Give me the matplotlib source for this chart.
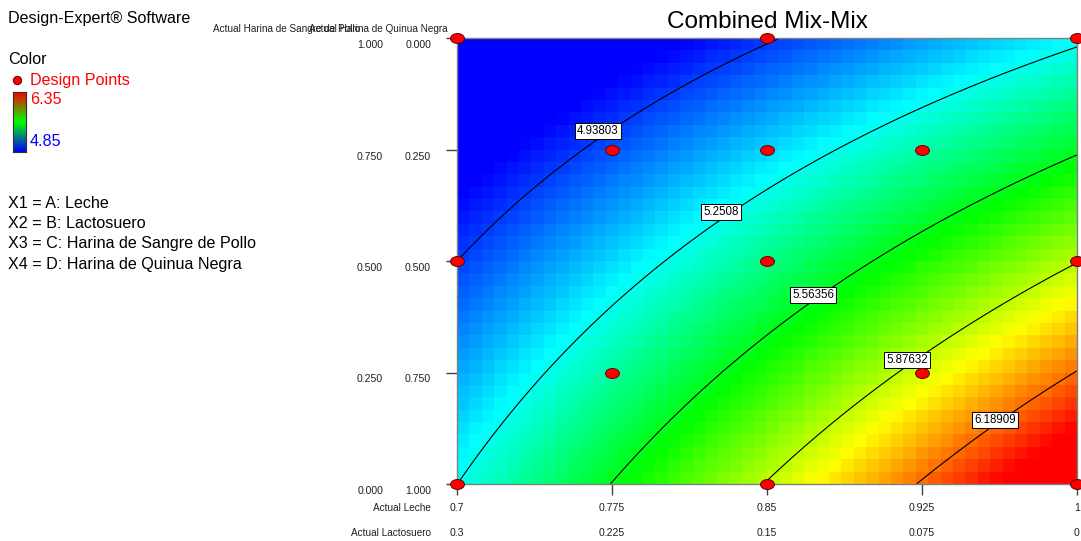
import numpy as np
import matplotlib
matplotlib.use("Agg")
import matplotlib.pyplot as plt
from matplotlib.colors import LinearSegmentedColormap
from matplotlib.path import Path
from matplotlib.transforms import Affine2D, blended_transform_factory, ScaledTranslation

plt.rcParams['font.family'] = ['Liberation Sans', 'DejaVu Sans']

# ---------------- data ----------------
leche_ticks = [0.7, 0.775, 0.85, 0.925, 1.0]
leche_labels = ["0.7", "0.775", "0.85", "0.925", "1"]
lacto_labels = ["0.3", "0.225", "0.15", "0.075", "0"]
sangre_ticks = [0.0, 0.25, 0.5, 0.75, 1.0]
sangre_labels = ["0.000", "0.250", "0.500", "0.750", "1.000"]
quinua_labels = ["1.000", "0.750", "0.500", "0.250", "0.000"]

# design points (Leche, Harina de Sangre de Pollo)
pts_leche = [0.7, 0.85, 1.0, 0.775, 0.85, 0.925, 0.7, 0.85, 1.0, 0.775, 0.925, 0.7, 0.85, 1.0]
pts_sangre = [1.0, 1.0, 1.0, 0.75, 0.75, 0.75, 0.5, 0.5, 0.5, 0.25, 0.25, 0.0, 0.0, 0.0]

# estimated response model coefficients (coded: u = Leche scaled 0..1, v = Sangre)
b0, bU, bV, bUV = 5.25, 1.267, -0.624, -0.668
levels = [4.93803, 5.2508, 5.56356, 5.87632, 6.18909]
level_texts = ["4.93803", "5.2508", "5.56356", "5.87632", "6.18909"]
label_pos = [(0.7682, 0.7915), (0.8277, 0.610), (0.8723, 0.4238), (0.9177, 0.278), (0.9603, 0.1435)]
vmin, vmax = 4.85, 6.35

def response(leche, sangre):
    u = (leche - 0.7) / 0.3
    return b0 + bU * u + bV * sangre + bUV * u * sangre

cmap = LinearSegmentedColormap.from_list(
    "de", ["#0000ff", "#00ffff", "#00ff00", "#ffff00", "#ff0000"])
legend_cmap = LinearSegmentedColormap.from_list("leg", ["#0000ff", "#00ff00", "#ff0000"])

# ---------------- figure ----------------
W, H = 1081, 541
fig = plt.figure(figsize=(W / 100, H / 100), dpi=100)
ax = fig.add_axes([457 / W, 57 / H, 620 / W, 446 / H])

nx, ny = 50, 36
xe = np.linspace(0.7, 1.0, nx + 1)
ye = np.linspace(0.0, 1.0, ny + 1)
xc = 0.5 * (xe[:-1] + xe[1:])
yc = 0.5 * (ye[:-1] + ye[1:])
XC, YC = np.meshgrid(xc, yc)
ax.pcolormesh(xe, ye, response(XC, YC), cmap=cmap, vmin=vmin, vmax=vmax, shading='flat')

xf = np.linspace(0.7, 1.0, 300)
yf = np.linspace(0.0, 1.0, 300)
XF, YF = np.meshgrid(xf, yf)
cs = ax.contour(XF, YF, response(XF, YF), levels=levels, colors='black', linewidths=0.8)
fmt = {lv: tx for lv, tx in zip(cs.levels, level_texts)}
lbls = ax.clabel(cs, inline=False, fmt=fmt, fontsize=8.3, manual=label_pos)
for t in lbls:
    t.set_rotation(0)
    txt = t.get_text()
    if txt in level_texts:
        t.set_position(label_pos[level_texts.index(txt)])
    t.set_bbox(dict(facecolor='white', edgecolor='black', linewidth=0.7, pad=1.5))
    t.set_zorder(5)

ell = Path.unit_circle().transformed(Affine2D().scale(1.4, 1.0))
ax.plot(pts_leche, pts_sangre, linestyle='none', marker=ell, markersize=10,
        markerfacecolor='#ff0000', markeredgecolor='#600000', markeredgewidth=0.7,
        clip_on=False, zorder=6)

ax.set_xlim(0.7, 1.0)
ax.set_ylim(0.0, 1.0)
for s in ax.spines.values():
    s.set_color('#808080')
    s.set_linewidth(1.0)
ax.set_xticks(leche_ticks)
ax.set_yticks(sangre_ticks)
ax.set_xticklabels([])
ax.set_yticklabels([])
ax.tick_params(direction='out', length=8, width=1, color='#404040')

tf = fig.dpi_scale_trans
tfont = 7.6
# y tick label columns
ytr = blended_transform_factory(fig.transFigure, ax.transData)
for yv, s1, s2 in zip(sangre_ticks, sangre_labels, quinua_labels):
    off = ScaledTranslation(0, -7 / 100, tf)
    fig.text(383 / W, yv, s1, transform=ytr + off, ha='right', va='center',
             fontsize=tfont, color='#202020')
    fig.text(431 / W, yv, s2, transform=ytr + off, ha='right', va='center',
             fontsize=tfont, color='#202020')
# x tick label rows
xtr = blended_transform_factory(ax.transData, fig.transFigure)
for xv, s1, s2 in zip(leche_ticks, leche_labels, lacto_labels):
    fig.text(xv, 1 - 508 / H, s1, transform=xtr, ha='center', va='center',
             fontsize=tfont, color='#202020')
    fig.text(xv, 1 - 533 / H, s2, transform=xtr, ha='center', va='center',
             fontsize=tfont, color='#202020')

fig.text(431 / W, 1 - 508 / H, "Actual Leche", ha='right', va='center', fontsize=7.2, color='#202020')
fig.text(431 / W, 1 - 533 / H, "Actual Lactosuero", ha='right', va='center', fontsize=7.2, color='#202020')
fig.text(213 / W, 1 - 29 / H, "Actual Harina de Sangre de Pollo", ha='left', va='center', fontsize=7.2, color='#202020')
fig.text(448 / W, 1 - 29 / H, "Actual Harina de Quinua Negra", ha='right', va='center', fontsize=7.2, color='#202020')

fig.text(767 / W, 1 - 22 / H, "Combined Mix-Mix", ha='center', va='center', fontsize=17.5, color='black')

# left info panel
fig.text(8 / W, 1 - 18 / H, "Design-Expert® Software", ha='left', va='center', fontsize=11.6)
fig.text(8 / W, 1 - 60 / H, "Color", ha='left', va='center', fontsize=11.6)
fig.text(30 / W, 1 - 80 / H, "Design Points", ha='left', va='center', fontsize=11.6, color='#ff0000')
fig.lines.append(plt.Line2D([17 / W], [1 - 80 / H], transform=fig.transFigure, marker='o',
                            markersize=6, markerfacecolor='#ff0000', markeredgecolor='#600000',
                            markeredgewidth=0.7, linestyle='none'))
cax = fig.add_axes([13 / W, 1 - 152 / H, 13 / W, 60 / H])
cax.imshow(np.linspace(1, 0, 100).reshape(-1, 1), aspect='auto', cmap=legend_cmap, vmin=0, vmax=1)
cax.set_xticks([]); cax.set_yticks([])
for s in cax.spines.values():
    s.set_color('#303030'); s.set_linewidth(0.8)
fig.text(30 / W, 1 - 100 / H, "6.35", ha='left', va='center', fontsize=11.6, color='#ff0000')
fig.text(30 / W, 1 - 141 / H, "4.85", ha='left', va='center', fontsize=11.6, color='#0000ff')

var_lines = ["X1 = A: Leche", "X2 = B: Lactosuero",
             "X3 = C: Harina de Sangre de Pollo", "X4 = D: Harina de Quinua Negra"]
for i, s in enumerate(var_lines):
    fig.text(8 / W, 1 - (203 + 20.5 * i) / H, s, ha='left', va='center', fontsize=11.6)

fig.savefig("out.png", dpi=100)
